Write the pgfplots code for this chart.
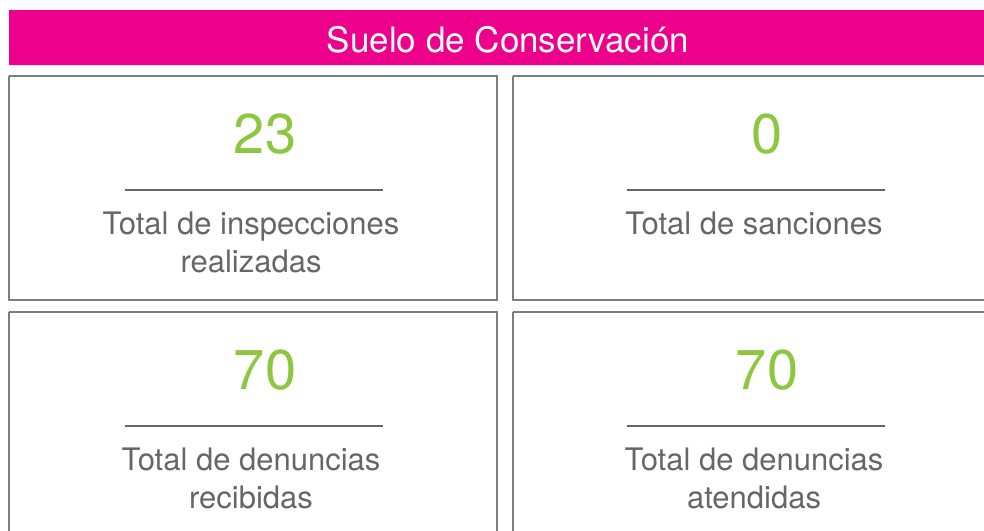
\documentclass[border=0pt]{standalone}
\usepackage{pgfplots}
\usepackage{fontspec}
\pgfplotsset{compat=1.18}
\setmainfont{TeX Gyre Heros}
\definecolor{banner}{RGB}{236,0,140}
\definecolor{kpi}{RGB}{141,198,63}
\definecolor{txt}{RGB}{102,102,102}
\definecolor{frame}{RGB}{125,125,125}

% KPI values: x centre, baseline y, value
\pgfplotstableread{
x   y    v
265 153  23
767 153  0
265 389  70
767 389  70
}\kpis

\begin{document}
\begin{tikzpicture}
\begin{axis}[
    width=984pt, height=530pt, scale only axis,
    xmin=0, xmax=984, ymin=0, ymax=530,
    y dir=reverse,
    hide axis,
    ]
% banner
\addplot [draw=none, fill=banner] coordinates {(9,10) (1008,10) (1008,65) (9,65) (9,10)};
% cards
\addplot [frame, line width=1.3pt] coordinates {(9,76) (497,76) (497,300) (9,300) (9,76)};
\addplot [frame, line width=1.3pt] coordinates {(513,76) (1001,76) (1001,300) (513,300) (513,76)};
\addplot [frame, line width=1.3pt] coordinates {(9,312) (497,312) (497,548) (9,548) (9,312)};
\addplot [frame, line width=1.3pt] coordinates {(513,312) (1001,312) (1001,548) (513,548) (513,312)};
% separators
\addplot [txt, line width=1.4pt, unbounded coords=jump] coordinates {
  (125,190) (383,190) (nan,nan)
  (627,190) (885,190) (nan,nan)
  (125,426) (383,426) (nan,nan)
  (627,426) (885,426)};
% values
\addplot [draw=none, mark=none, nodes near coords, point meta=explicit symbolic,
  nodes near coords align={anchor=base},
  every node near coord/.append style={kpi, inner sep=0pt, anchor=base,
    font=\fontsize{56}{60}\selectfont}]
  table [x=x, y=y, meta=v] {\kpis};
% labels
\node [white, anchor=base, inner sep=0pt, font=\fontsize{35}{40}\selectfont]
  at (axis cs:508,52) {Suelo de Conservación};
\begin{scope}[every node/.style={txt, anchor=north, inner sep=0pt, align=center,
    font=\fontsize{31}{38}\selectfont}]
\node at (axis cs:251,212) {Total de inspecciones\\realizadas};
\node at (axis cs:754,212) {Total de sanciones};
\node at (axis cs:251,448) {Total de denuncias\\recibidas};
\node at (axis cs:754,448) {Total de denuncias\\atendidas};
\end{scope}
\end{axis}
\pgfresetboundingbox
\useasboundingbox (current axis.south west) rectangle (current axis.north east);
\end{tikzpicture}
\end{document}
